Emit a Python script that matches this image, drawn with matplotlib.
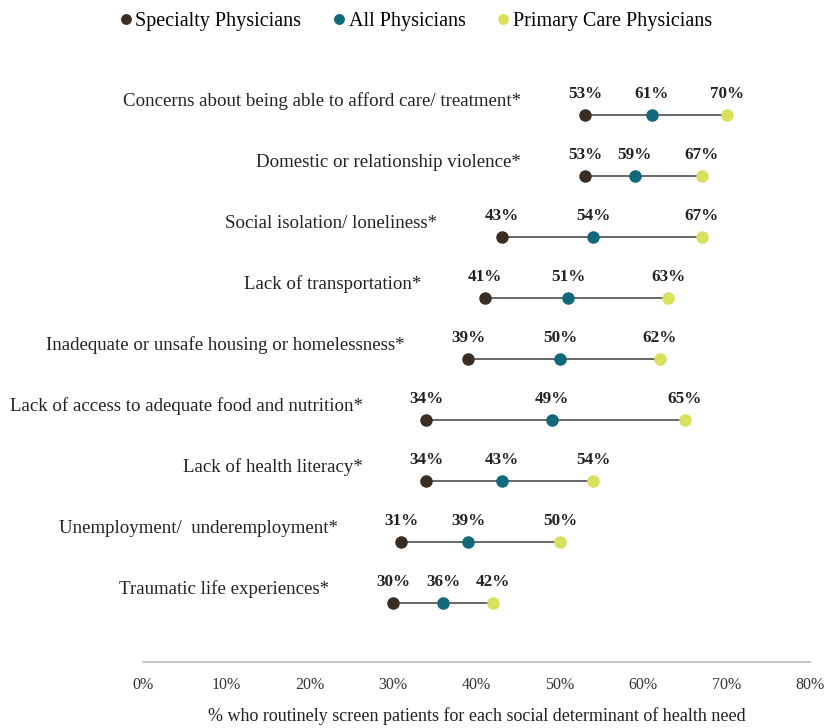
import matplotlib.pyplot as plt
import numpy as np

categories = [
    "Concerns about being able to afford care/ treatment*",
    "Domestic or relationship violence*",
    "Social isolation/ loneliness*",
    "Lack of transportation*",
    "Inadequate or unsafe housing or homelessness*",
    "Lack of access to adequate food and nutrition*",
    "Lack of health literacy*",
    "Unemployment/  underemployment*",
    "Traumatic life experiences*",
]
specialty = [53, 53, 43, 41, 39, 34, 34, 31, 30]
all_phys = [61, 59, 54, 51, 50, 49, 43, 39, 36]
primary = [70, 67, 67, 63, 62, 65, 54, 50, 42]

series_names = ["Specialty Physicians", "All Physicians", "Primary Care Physicians"]
colors = ["#3a2e24", "#10697a", "#d8e05c"]
xticks = [0, 10, 20, 30, 40, 50, 60, 70, 80]

plt.rcParams['font.family'] = ['Liberation Serif', 'DejaVu Serif']

fig = plt.figure(figsize=(8.32, 7.28), dpi=100)
ax = fig.add_axes([143/832, 1 - 662/728, (810 - 143)/832, (662 - 70)/728])

y = np.arange(len(categories))
for i in range(len(categories)):
    lo = min(specialty[i], all_phys[i], primary[i])
    hi = max(specialty[i], all_phys[i], primary[i])
    ax.plot([lo, hi], [y[i], y[i]], color="#666666", lw=1.4, zorder=1)
    ax.annotate(categories[i], (lo, y[i]), xytext=(-46, 10), textcoords="offset points",
                ha="right", va="center", fontsize=13.6, color="#222222")

for vals, c, name in zip([specialty, all_phys, primary], colors, series_names):
    ax.plot(vals, y, "o", color=c, ms=8, zorder=3, label=name)
    for xv, yv in zip(vals, y):
        ax.annotate(f"{xv}%", (xv, yv), xytext=(0, 15), textcoords="offset points",
                    ha="center", va="center", fontsize=12.3, fontweight="bold", color="#222222")

ax.set_xlim(0, 80)
ax.set_ylim(8.97, -0.74)
ax.set_xticks(xticks)
ax.set_xticklabels([f"{t}%" for t in xticks], fontsize=11.5, color="#333333")
ax.set_yticks([])
ax.tick_params(axis="x", length=0, pad=11)
for s in ["top", "right", "left"]:
    ax.spines[s].set_visible(False)
ax.spines["bottom"].set_color("#c8c8c8")
ax.spines["bottom"].set_linewidth(1.5)
ax.set_xlabel("% who routinely screen patients for each social determinant of health need",
              fontsize=13, color="#222222", labelpad=10)

fig.legend(loc="upper center", bbox_to_anchor=(0.5, 1.008), ncol=3, frameon=False,
           fontsize=14.5, handlelength=0.55, handletextpad=0.2, columnspacing=1.6,
           markerscale=0.85)

fig.savefig("out.png", dpi=100, facecolor="white")
